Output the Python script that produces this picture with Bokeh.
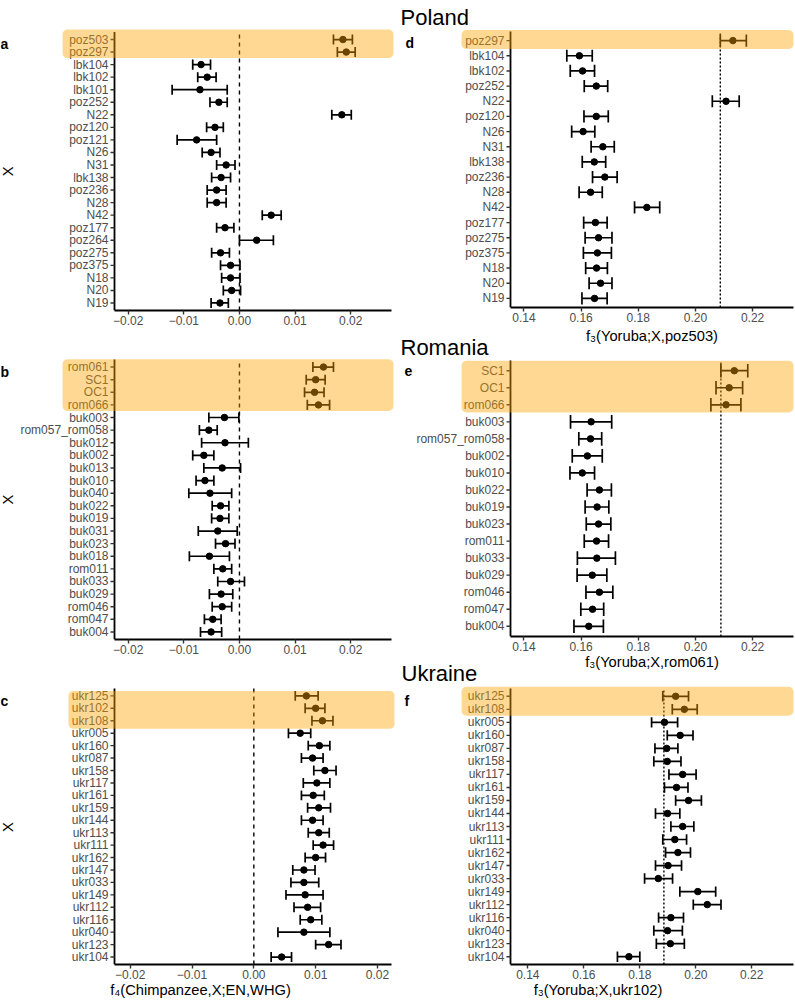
import math
from bokeh.plotting import figure
from bokeh.layouts import row, column
from bokeh.models import (Range1d, FixedTicker, PrintfTickFormatter,
                          BoxAnnotation, Label, ColumnDataSource)
from bokeh.core.properties import value
from bokeh.embed import file_html
from bokeh.resources import INLINE

# ---------------- data ----------------
A_X = ["poz503", "poz297", "lbk104", "lbk102", "lbk101", "poz252", "N22", "poz120", "poz121", "N26", "N31",
       "lbk138", "poz236", "N28", "N42", "poz177", "poz264", "poz275", "poz375", "N18", "N20", "N19"]
A_EST = [0.0186, 0.0192, -0.0069, -0.0058, -0.0071, -0.0037, 0.0184, -0.0044, -0.0077, -0.0051, -0.0024,
         -0.0033, -0.0041, -0.0041, 0.0057, -0.0026, 0.0031, -0.0034, -0.0016, -0.0016, -0.0014, -0.0035]
A_LO = [0.0169, 0.0176, -0.0084, -0.0075, -0.0121, -0.0053, 0.0166, -0.0059, -0.0112, -0.0067, -0.0041,
        -0.0050, -0.0058, -0.0058, 0.0041, -0.0041, 0.0000, -0.0050, -0.0034, -0.0032, -0.0029, -0.0051]
A_HI = [0.0203, 0.0208, -0.0052, -0.0042, -0.0022, -0.0022, 0.0201, -0.0029, -0.0041, -0.0035, -0.0008,
        -0.0016, -0.0024, -0.0024, 0.0075, -0.0010, 0.0061, -0.0018, 0.0001, 0.0001, 0.0002, -0.0020]
A_HL = 2

B_X = ["rom061", "SC1", "OC1", "rom066", "buk003", "rom057_rom058", "buk012", "buk002", "buk013", "buk010",
       "buk040", "buk022", "buk019", "buk031", "buk023", "buk018", "rom011", "buk033", "buk029", "rom046",
       "rom047", "buk004"]
B_EST = [0.0151, 0.0137, 0.0135, 0.0142, -0.0027, -0.0055, -0.0026, -0.0064, -0.0031, -0.0062, -0.0053,
         -0.0034, -0.0035, -0.0039, -0.0025, -0.0054, -0.0030, -0.0016, -0.0033, -0.0031, -0.0048, -0.0051]
B_LO = [0.0132, 0.0120, 0.0117, 0.0122, -0.0055, -0.0072, -0.0068, -0.0084, -0.0064, -0.0078, -0.0091,
        -0.0049, -0.0050, -0.0074, -0.0043, -0.0090, -0.0046, -0.0039, -0.0054, -0.0049, -0.0063, -0.0070]
B_HI = [0.0169, 0.0154, 0.0152, 0.0162, -0.0001, -0.0040, 0.0016, -0.0046, 0.0002, -0.0046, -0.0014,
        -0.0019, -0.0019, -0.0004, -0.0008, -0.0018, -0.0014, 0.0009, -0.0012, -0.0014, -0.0033, -0.0032]
B_HL = 4

C_X = ["ukr125", "ukr102", "ukr108", "ukr005", "ukr160", "ukr087", "ukr158", "ukr117", "ukr161", "ukr159",
       "ukr144", "ukr113", "ukr111", "ukr162", "ukr147", "ukr033", "ukr149", "ukr112", "ukr116", "ukr040",
       "ukr123", "ukr104"]
C_EST = [0.0085, 0.0100, 0.0111, 0.0075, 0.0106, 0.0095, 0.0115, 0.0102, 0.0096, 0.0105, 0.0095,
         0.0105, 0.0112, 0.0100, 0.0081, 0.0081, 0.0083, 0.0087, 0.0092, 0.0081, 0.0121, 0.0045]
C_LO = [0.0067, 0.0083, 0.0094, 0.0056, 0.0088, 0.0077, 0.0097, 0.0080, 0.0077, 0.0087, 0.0077,
        0.0088, 0.0096, 0.0083, 0.0063, 0.0060, 0.0052, 0.0065, 0.0075, 0.0039, 0.0100, 0.0028]
C_HI = [0.0104, 0.0115, 0.0128, 0.0092, 0.0123, 0.0112, 0.0133, 0.0123, 0.0114, 0.0124, 0.0112,
        0.0122, 0.0129, 0.0116, 0.0099, 0.0105, 0.0112, 0.0108, 0.0110, 0.0123, 0.0141, 0.0061]
C_HL = 3

D_X = ["poz297", "lbk104", "lbk102", "poz252", "N22", "poz120", "N26", "N31", "lbk138", "poz236", "N28",
       "N42", "poz177", "poz275", "poz375", "N18", "N20", "N19"]
D_EST = [0.2131, 0.1594, 0.1605, 0.1653, 0.2107, 0.1653, 0.1607, 0.1676, 0.1646, 0.1683, 0.1633,
         0.1830, 0.1650, 0.1661, 0.1657, 0.1654, 0.1668, 0.1647]
D_LO = [0.2087, 0.1550, 0.1562, 0.1611, 0.2059, 0.1610, 0.1567, 0.1635, 0.1604, 0.1640, 0.1593,
        0.1787, 0.1609, 0.1614, 0.1608, 0.1616, 0.1628, 0.1603]
D_HI = [0.2178, 0.1639, 0.1647, 0.1693, 0.2153, 0.1695, 0.1648, 0.1716, 0.1686, 0.1726, 0.1674,
        0.1875, 0.1691, 0.1708, 0.1706, 0.1692, 0.1708, 0.1691]
D_HL = 1
D_REF = 0.2087

E_X = ["SC1", "OC1", "rom066", "buk003", "rom057_rom058", "buk002", "buk010", "buk022", "buk019", "buk023",
       "rom011", "buk033", "buk029", "rom046", "rom047", "buk004"]
E_EST = [0.2136, 0.2118, 0.2107, 0.1635, 0.1633, 0.1622, 0.1604, 0.1664, 0.1656, 0.1661,
         0.1654, 0.1655, 0.1639, 0.1664, 0.1640, 0.1627]
E_LO = [0.2089, 0.2072, 0.2054, 0.1563, 0.1592, 0.1569, 0.1561, 0.1621, 0.1614, 0.1618,
        0.1611, 0.1587, 0.1586, 0.1617, 0.1599, 0.1575]
E_HI = [0.2183, 0.2165, 0.2159, 0.1707, 0.1672, 0.1674, 0.1647, 0.1706, 0.1697, 0.1704,
        0.1696, 0.1720, 0.1690, 0.1711, 0.1679, 0.1678]
E_HL = 3
E_REF = 0.2089

F_X = ["ukr125", "ukr108", "ukr005", "ukr160", "ukr087", "ukr158", "ukr117", "ukr161", "ukr159", "ukr144",
       "ukr113", "ukr111", "ukr162", "ukr147", "ukr033", "ukr149", "ukr112", "ukr116", "ukr040", "ukr123",
       "ukr104"]
F_EST = [0.1928, 0.1959, 0.1888, 0.1944, 0.1896, 0.1898, 0.1953, 0.1931, 0.1974, 0.1899,
         0.1953, 0.1925, 0.1936, 0.1901, 0.1866, 0.2007, 0.2041, 0.1911, 0.1899, 0.1909, 0.1761]
F_LO = [0.1882, 0.1916, 0.1842, 0.1898, 0.1854, 0.1850, 0.1904, 0.1888, 0.1928, 0.1856,
        0.1911, 0.1882, 0.1892, 0.1856, 0.1817, 0.1943, 0.1991, 0.1867, 0.1850, 0.1859, 0.1720]
F_HI = [0.1974, 0.2005, 0.1935, 0.1990, 0.1936, 0.1947, 0.2001, 0.1972, 0.2020, 0.1943,
        0.1993, 0.1967, 0.1981, 0.1949, 0.1917, 0.2071, 0.2090, 0.1956, 0.1952, 0.1959, 0.1800]
F_HL = 2
F_REF = 0.1886

F4_TICKS = [-0.02, -0.01, 0.0, 0.01, 0.02]
F4_TICK_LABELS = ["\u22120.02", "\u22120.01", "0.00", "0.01", "0.02"]
F3_TICKS = [0.14, 0.16, 0.18, 0.20, 0.22]
F3_TICK_LABELS = ["0.14", "0.16", "0.18", "0.20", "0.22"]
F4_LIM_AB = (-0.02246, 0.02733)
F4_LIM_C = (-0.02254, 0.02227)
F3_LIM_DE = (0.1353, 0.2343)
F3_LIM_F = (0.1338, 0.2349)

COUNTRIES = ["Poland", "Romania", "Ukraine"]
LETTERS = ["a", "b", "c", "d", "e", "f"]
YTITLE = "X"
XTITLE_F4 = "f\u2084(Chimpanzee,X;EN,WHG)"
XTITLE_F3 = ["f\u2083(Yoruba;X,poz503)", "f\u2083(Yoruba;X,rom061)", "f\u2083(Yoruba;X,ukr102)"]

# ---------------- style ----------------
FONT = "Liberation Sans"
CAP = 0.4
HL_COLOR = "#FFA500"
HL_ALPHA = 0.42
TICK_COLOR = "#4D4D4D"


def add_label(p, text, x, y, size, bold=False, align="left", baseline="alphabetic", angle=0.0):
    p.add_layout(Label(x=x, y=y, x_units="canvas", y_units="canvas", text=text, angle=angle,
                       text_font=FONT, text_font_size=size,
                       text_font_style="bold" if bold else "normal",
                       text_color="black", text_align=align, text_baseline=baseline))


def panel(names, est, lo, hi, n_hl, ref, ref_dash, lim, xticks, xlabels, cfg):
    n = len(names)
    w, h, bb = cfg["w"], cfg["h"], cfg["bb"]
    dl, dr, dt = cfg["dl"], cfg["dr"], cfg["dt"]
    fh = h - bb
    d0, d1 = lim
    ppu = (dr - dl) / (d1 - d0)
    ppr = (fh - dt) / (n + 0.2)
    x_range = Range1d(d0 - dl / ppu, d1 + (w - dr) / ppu)
    y_range = Range1d(-0.6, n - 0.4 + dt / ppr)

    ys = [n - 1 - i for i in range(n)]
    src = ColumnDataSource(dict(y=ys, est=est, lo=lo, hi=hi, name=names, ax=[d0] * n,
                                y0=[y - CAP for y in ys], y1=[y + CAP for y in ys]))
    p = figure(width=w, height=h, x_range=x_range, y_range=y_range, y_axis_location=None,
               output_backend="svg", toolbar_location=None,
               min_border_left=0, min_border_right=0, min_border_top=0, min_border_bottom=bb)
    p.grid.visible = False
    p.outline_line_color = None
    p.background_fill_color = "white"
    p.border_fill_color = "white"

    # reference line (within the data area only)
    p.segment(x0=[ref], x1=[ref], y0=[-0.6], y1=[n - 0.4], line_color="black",
              line_dash=ref_dash, line_width=1.4)

    # y axis of the categories
    p.segment(x0=[d0], x1=[d0], y0=[-0.6], y1=[n - 0.4], line_color="black", line_width=1.8)
    p.ray(x="ax", y="y", source=src, length=4, length_units="screen", angle=math.pi,
          line_color="#333333", line_width=1.4)
    p.text(x="ax", y="y", text="name", source=src, x_offset=-6, text_align="right",
           text_baseline="middle", text_font=value(FONT), text_font_size=value("12px"),
           text_color=TICK_COLOR)

    # estimates with error bars
    p.segment(x0="lo", x1="hi", y0="y", y1="y", source=src, line_color="black", line_width=1.7)
    p.segment(x0="lo", x1="lo", y0="y0", y1="y1", source=src, line_color="black", line_width=1.7)
    p.segment(x0="hi", x1="hi", y0="y0", y1="y1", source=src, line_color="black", line_width=1.7)
    p.scatter(x="est", y="y", source=src, size=6.5, color="black")

    ax = p.xaxis[0]
    ax.bounds = (d0, d1)
    ax.ticker = FixedTicker(ticks=xticks)
    ax.formatter = PrintfTickFormatter(format="%.2f")
    ax.major_label_overrides = {t: s for t, s in zip(xticks, xlabels)}
    ax.axis_line_color = "black"
    ax.axis_line_width = 1.8
    ax.major_tick_line_color = "#333333"
    ax.major_tick_line_width = 1.4
    ax.major_tick_out = 4
    ax.major_tick_in = 0
    ax.minor_tick_line_color = None
    ax.major_label_text_font = FONT
    ax.major_label_text_font_size = "12px"
    ax.major_label_text_color = TICK_COLOR
    ax.major_label_standoff = 1
    if cfg.get("xtitle"):
        ax.axis_label = cfg["xtitle"]
        ax.axis_label_text_font = FONT
        ax.axis_label_text_font_size = "14.7px"
        ax.axis_label_text_font_style = "normal"
        ax.axis_label_text_color = "black"
        ax.axis_label_standoff = 0

    # highlighted samples
    p.add_layout(BoxAnnotation(left=cfg["box"][0], right=cfg["box"][1],
                               left_units="canvas", right_units="canvas",
                               top=ys[0] + cfg["pad"][0], bottom=ys[n_hl - 1] - cfg["pad"][1],
                               fill_color=HL_COLOR, fill_alpha=HL_ALPHA, line_color=None,
                               border_radius=5, level="annotation"))

    lx, ly = cfg["letter_at"]
    add_label(p, cfg["letter"], lx, ly, "14px", bold=True)
    if cfg.get("ytitle_x") is not None:
        add_label(p, YTITLE, cfg["ytitle_x"], dt + (fh - dt) / 2, "14.7px",
                  align="center", baseline="middle", angle=math.pi / 2)
    for txt, (tx, ty) in cfg.get("titles", []):
        add_label(p, txt, tx, ty, "22px")
    for txt, (tx, ty) in cfg.get("prev_xtitle", []):
        add_label(p, txt, tx, ty, "14.7px", align="center", baseline="middle")
    return p


LEFT = dict(w=400, dl=114, dr=391)
RIGHT = dict(w=395, dl=110, dr=393)
XT_CENTER_R = (110 + 393) / 2

pa = panel(A_X, A_EST, A_LO, A_HI, A_HL, 0.0, "4 4", F4_LIM_AB, F4_TICKS, F4_TICK_LABELS,
           dict(LEFT, h=335, bb=25, dt=31.5, box=(62, 393), pad=(0.8, 0.48),
                letter=LETTERS[0], letter_at=(0, 43), ytitle_x=7))
pb = panel(B_X, B_EST, B_LO, B_HI, B_HL, 0.0, "4 4", F4_LIM_AB, F4_TICKS, F4_TICK_LABELS,
           dict(LEFT, h=330, bb=26, dt=24, box=(62, 393), pad=(0.61, 0.49),
                letter=LETTERS[1], letter_at=(0, 36.7), ytitle_x=7))
pc = panel(C_X, C_EST, C_LO, C_HI, C_HL, 0.0, "4 4", F4_LIM_C, F4_TICKS, F4_TICK_LABELS,
           dict(LEFT, h=335, bb=35, dt=23, box=(68, 394), pad=(0.4, 0.65),
                letter=LETTERS[2], letter_at=(0, 35), ytitle_x=7, xtitle=XTITLE_F4))
pd = panel(D_X, D_EST, D_LO, D_HI, D_HL, D_REF, "2 2", F3_LIM_DE, F3_TICKS, F3_TICK_LABELS,
           dict(RIGHT, h=327, bb=20, dt=31, box=(61, 393), pad=(0.7, 0.55),
                letter=LETTERS[3], letter_at=(5, 42),
                titles=[(COUNTRIES[0], (0, 16.7))]))
pe = panel(E_X, E_EST, E_LO, E_HI, E_HL, E_REF, "2 2", F3_LIM_DE, F3_TICKS, F3_TICK_LABELS,
           dict(RIGHT, h=326, bb=17, dt=33, box=(61, 393), pad=(0.59, 0.45),
                letter=LETTERS[4], letter_at=(4, 43),
                titles=[(COUNTRIES[1], (0, 19.7))],
                prev_xtitle=[(XTITLE_F3[0], (XT_CENTER_R, 8))]))
pf = panel(F_X, F_EST, F_LO, F_HI, F_HL, F_REF, "2 2", F3_LIM_F, F3_TICKS, F3_TICK_LABELS,
           dict(RIGHT, h=347, bb=36, dt=35, box=(61, 393), pad=(0.74, 0.49),
                letter=LETTERS[5], letter_at=(4, 47), xtitle=XTITLE_F3[2],
                titles=[(COUNTRIES[2], (1, 20.3))],
                prev_xtitle=[(XTITLE_F3[1], (XT_CENTER_R, 8))]))

layout = row(column(pa, pb, pc, spacing=0), column(pd, pe, pf, spacing=0), spacing=0)

with open("out.html", "w") as fh:
    fh.write(file_html(layout, INLINE, "f-statistics"))
